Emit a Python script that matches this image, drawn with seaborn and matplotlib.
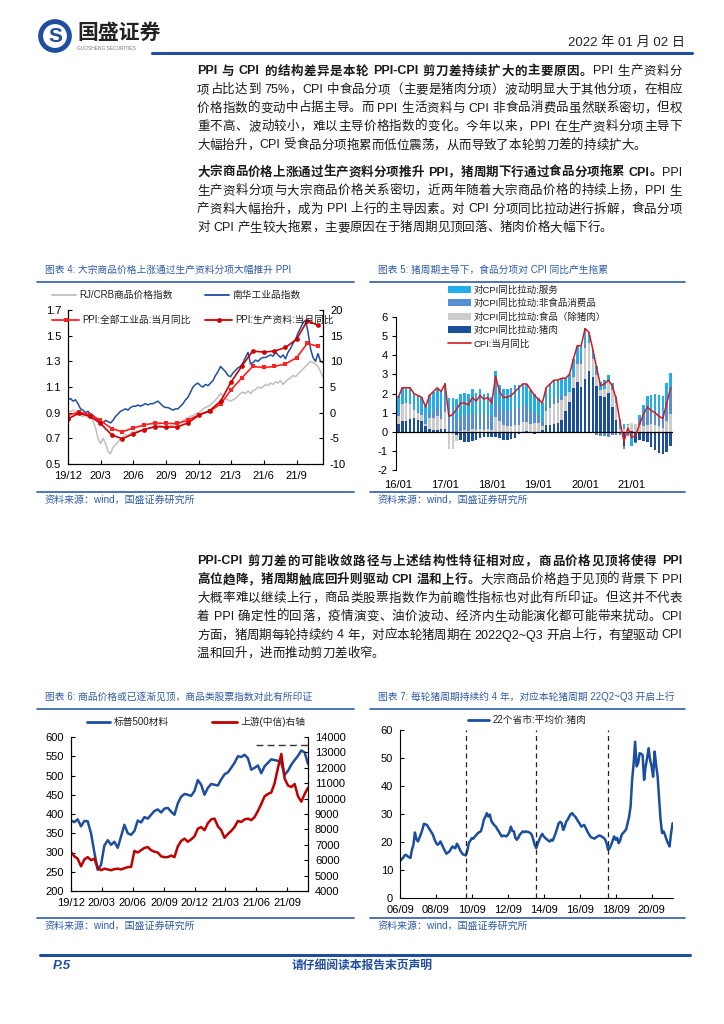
import re
import numpy as np
import pandas as pd
import matplotlib
matplotlib.use('Agg')
import matplotlib.pyplot as plt
import seaborn as sns
from matplotlib.lines import Line2D
from matplotlib.patches import Patch, Circle

# ---------------- data ----------------
# chart 4: weekly normalised indices (from 2019-12-01) and monthly PPI yoy
nanhua_idx = [1.00, 1.01, 0.99, 1.00, 0.97, 0.93, 0.92, 0.90, 0.91,
              0.89, 0.88, 0.86, 0.84, 0.83, 0.82, 0.84, 0.83, 0.82,
              0.84, 0.87, 0.89, 0.91, 0.92, 0.93, 0.92, 0.94, 0.95,
              0.95, 0.96, 0.95, 0.96, 0.97, 0.96, 0.97, 0.97,
              0.98, 0.99, 0.97, 0.95, 0.94, 0.94, 0.93, 0.92, 0.93,
              0.93, 0.95, 0.97, 1.00, 1.02, 1.06, 1.10, 1.12, 1.13,
              1.11, 1.10, 1.12, 1.11, 1.13, 1.15, 1.19, 1.22,
              1.26, 1.24, 1.22, 1.19, 1.18, 1.21, 1.23, 1.25, 1.26,
              1.29, 1.33, 1.37, 1.28, 1.29, 1.31, 1.30, 1.32, 1.33,
              1.33, 1.34, 1.35, 1.34, 1.37, 1.35, 1.33, 1.35,
              1.32, 1.37, 1.40, 1.44, 1.47, 1.52, 1.56, 1.60, 1.62,
              1.53, 1.40, 1.33, 1.30, 1.36, 1.30, 1.29]
crb_idx = [0.90, 0.91, 0.92, 0.91, 0.89, 0.88, 0.87, 0.88, 0.86,
           0.86, 0.84, 0.78, 0.70, 0.66, 0.70, 0.66, 0.60, 0.58,
           0.63, 0.65, 0.67, 0.70, 0.71, 0.73, 0.72, 0.74, 0.75,
           0.75, 0.76, 0.76, 0.77, 0.77, 0.78, 0.78, 0.79,
           0.80, 0.81, 0.80, 0.79, 0.78, 0.79, 0.80, 0.80, 0.81,
           0.81, 0.82, 0.84, 0.85, 0.86, 0.87, 0.88, 0.89, 0.90,
           0.91, 0.93, 0.94, 0.95, 0.96, 0.98, 1.00, 1.02,
           1.05, 1.03, 1.01, 1.00, 0.99, 1.00, 1.01, 1.03, 1.05,
           1.06, 1.05, 1.07, 1.05, 1.07, 1.08, 1.10, 1.09, 1.10,
           1.12, 1.11, 1.13, 1.12, 1.14, 1.13, 1.15, 1.12,
           1.14, 1.16, 1.17, 1.19, 1.18, 1.20, 1.22, 1.24, 1.26,
           1.28, 1.30, 1.29, 1.28, 1.26, 1.22, 1.18]
ppi_all = [-0.5, 0.1, -0.4, -1.5, -3.1, -3.7, -3.0, -2.4, -2.0, -2.1, -2.1, -1.5,
           -0.4, 0.3, 1.7, 4.4, 6.8, 9.0, 8.8, 9.0, 9.5, 10.7, 13.5, 12.9]
ppi_means = [-1.2, -0.1, -0.7, -2.1, -4.3, -5.1, -4.1, -3.3, -2.7, -2.8, -2.8, -2.0,
             -0.5, 0.4, 2.3, 5.9, 9.1, 12.0, 11.8, 12.0, 12.7, 14.3, 17.9, 17.0]
c4_ticks = ['2019-12-01', '2020-03-01', '2020-06-01', '2020-09-01',
            '2020-12-01', '2021-03-01', '2021-06-01', '2021-09-01']
c4_labels = ['19/12', '20/3', '20/6', '20/9', '20/12', '21/3', '21/6', '21/9']

# chart 5: monthly contributions to CPI yoy, 2016-01 .. 2021-11
cpi_yoy = [1.8, 2.3, 2.3, 2.3, 2.0, 1.9, 1.8, 1.3, 1.9, 2.1, 2.3, 2.1,
           2.5, 0.8, 0.9, 1.2, 1.5, 1.5, 1.4, 1.8, 1.6, 1.9, 1.7, 1.8,
           1.5, 2.9, 2.1, 1.8, 1.8, 1.9, 2.1, 2.3, 2.5, 2.5, 2.2, 1.9,
           1.7, 1.5, 2.3, 2.5, 2.7, 2.7, 2.8, 2.8, 3.0, 3.8, 4.5, 4.5,
           5.4, 5.2, 4.3, 3.3, 2.4, 2.5, 2.7, 2.4, 1.7, 0.5, -0.5, 0.2,
           -0.3, -0.2, 0.4, 0.9, 1.3, 1.1, 1.0, 0.8, 0.7, 1.5, 2.3]
pork = [0.42, 0.55, 0.58, 0.65, 0.70, 0.62, 0.55, 0.30, 0.15, 0.10, 0.10, 0.12,
        0.12, -0.02, -0.05, -0.15, -0.45, -0.55, -0.55, -0.48, -0.42, -0.35, -0.30, -0.25,
        -0.30, -0.28, -0.35, -0.42, -0.45, -0.40, -0.35, -0.12, -0.05, 0.02, 0.00, -0.10,
        -0.08, 0.10, 0.35, 0.35, 0.40, 0.45, 0.60, 1.10, 1.55, 2.30, 2.60, 2.35,
        2.75, 3.20, 2.85, 2.40, 1.85, 1.80, 2.05, 1.30, 0.60, -0.05, -0.75, -0.05,
        0.05, -0.55, -0.45, -0.50, -0.55, -0.80, -0.95, -1.10, -1.15, -1.05, -0.75]
food_ex_pork = [0.38, 0.90, 0.90, 0.80, 0.45, 0.35, 0.30, 0.12, 0.55, 0.60, 0.70, 0.55,
                0.90, -0.90, -0.85, -0.35, 0.05, 0.10, 0.05, 0.15, 0.10, 0.15, 0.10, 0.15,
                0.10, 0.75, 0.55, 0.35, 0.30, 0.30, 0.35, 0.35, 0.50, 0.48, 0.40, 0.45,
                0.45, 0.20, 0.75, 0.90, 1.05, 1.05, 1.05, 0.75, 0.55, 0.55, 0.95, 1.20,
                1.65, 1.45, 0.95, 0.55, 0.35, 0.45, 0.55, 0.90, 0.90, 0.15, 0.15, 0.35,
                0.40, 0.40, 0.35, 0.30, 0.35, 0.40, 0.35, 0.30, 0.20, 0.55, 0.95]
nonfood = [0.15, 0.05, 0.05, 0.05, 0.05, 0.10, 0.12, 0.12, 0.30, 0.40, 0.50, 0.45,
           0.55, 0.70, 0.72, 0.65, 0.75, 0.80, 0.80, 0.85, 0.80, 0.85, 0.80, 0.80,
           0.70, 0.72, 0.75, 0.75, 0.80, 0.85, 0.90, 0.90, 0.90, 0.90, 0.75, 0.55,
           0.40, 0.25, 0.30, 0.35, 0.35, 0.30, 0.25, 0.10, 0.05, 0.10, 0.15, 0.20,
           0.20, 0.05, 0.00, -0.15, -0.20, -0.20, -0.25, -0.15, -0.15, -0.10, -0.15, -0.15,
           -0.25, -0.05, 0.25, 0.45, 0.70, 0.70, 0.70, 0.75, 0.80, 1.00, 1.05]
service = [0.90, 0.85, 0.80, 0.82, 0.82, 0.85, 0.85, 0.80, 0.90, 1.00, 1.00, 0.98,
           1.00, 1.05, 1.05, 1.05, 1.15, 1.15, 1.10, 1.25, 1.12, 1.25, 1.10, 1.10,
           1.00, 1.71, 1.15, 1.12, 1.15, 1.15, 1.20, 1.17, 1.15, 1.10, 1.05, 1.00,
           0.93, 0.95, 0.90, 0.90, 0.90, 0.90, 0.90, 0.85, 0.85, 0.85, 0.80, 0.75,
           0.80, 0.50, 0.50, 0.50, 0.40, 0.45, 0.35, 0.35, 0.35, 0.50, 0.25, 0.05,
           -0.50, 0.00, 0.25, 0.65, 0.80, 0.80, 0.95, 0.85, 0.85, 1.00, 1.05]
c5_labels = ['16/01', '17/01', '18/01', '19/01', '20/01', '21/01']

# chart 6: S&P500 materials (left) and CITIC upstream (right), 2019-12 .. 2021-11
sp_materials = [383, 379, 386, 368, 382, 381, 350, 300, 255, 268,
                318, 332, 320, 328, 312, 342, 372, 350, 346, 356,
                383, 378, 392, 388, 398, 408, 412, 404, 414, 416,
                406, 398, 428, 445, 452, 450, 447, 460, 488, 476,
                450, 468, 478, 476, 474, 490, 503, 508, 520, 533,
                550, 548, 554, 545, 515, 520, 526, 506, 524, 533,
                542, 540, 538, 532, 502, 512, 528, 540, 551, 565,
                560, 530]
citic_upstream = [6530, 6250, 6100, 5600, 6050, 6200, 6000, 6100, 5500, 5350,
                  5450, 5400, 5350, 5420, 5450, 5400, 5480, 5550, 5560, 6600,
                  6500, 6650, 6800, 6850, 6650, 6550, 6500, 6250, 6200, 6200,
                  6300, 6200, 6900, 7250, 7400, 7200, 7350, 7550, 8050, 8150,
                  7950, 8400, 8650, 8700, 8200, 7950, 7450, 7700, 7900, 8150,
                  8550, 8480, 8650, 8700, 8600, 8800, 9200, 9650, 10150, 10300,
                  10400, 11000, 12000, 12900, 11300, 10850, 10750, 10950, 10150, 9800,
                  10300, 10700]
upstream_peak = 13500
peak_from = '2021-06-01'
c6_ticks = ['2019-12-01', '2020-03-01', '2020-06-01', '2020-09-01',
            '2020-12-01', '2021-03-01', '2021-06-01', '2021-09-01']
c6_labels = ['19/12', '20/03', '20/06', '20/09', '20/12', '21/03', '21/06', '21/09']

# chart 7: monthly pork price, 22 provinces, 2006-09 .. 2021-11
pork_price = [13.1, 13.8, 14.3, 15.2, 15.4, 14.9, 14.6, 14.3, 17.2, 19.0, 23.4, 21.0,
              20.2, 21.5, 22.9, 24.5, 26.5, 26.3, 26.1, 25.2, 24.3, 23.5, 22.6, 21.0,
              19.8, 19.0, 19.4, 20.2, 19.0, 17.8, 16.9, 15.8, 16.2, 16.6, 17.5, 18.4,
              18.0, 17.8, 19.4, 18.5, 17.2, 16.3, 15.6, 15.4, 15.2, 17.0, 19.6, 20.5,
              21.4, 21.2, 22.0, 22.5, 23.2, 23.5, 23.8, 25.5, 27.9, 29.0, 30.3, 29.1,
              29.8, 27.5, 26.7, 26.0, 25.5, 24.5, 23.8, 22.8, 22.0, 22.3, 22.2, 22.0,
              22.6, 23.5, 25.5, 24.0, 23.8, 21.5, 20.8, 21.5, 22.6, 23.2, 23.8, 23.5,
              23.8, 23.6, 23.5, 23.2, 22.5, 20.8, 19.0, 17.8, 19.5, 20.8, 22.0, 22.9,
              22.0, 21.4, 21.0, 20.5, 20.2, 20.8, 20.5, 21.8, 23.2, 25.0, 26.7, 27.2,
              26.7, 24.3, 25.5, 27.3, 28.0, 29.1, 30.0, 30.3, 29.5, 29.1, 28.2, 27.3,
              26.5, 25.5, 25.8, 26.1, 25.0, 23.8, 23.0, 22.0, 21.6, 21.4, 21.2, 21.7,
              22.0, 22.3, 22.2, 21.8, 21.5, 20.8, 19.5, 17.2, 17.8, 19.0, 20.5, 22.0,
              20.8, 21.5, 19.6, 20.5, 22.6, 23.2, 23.8, 24.5, 26.7, 29.0, 32.7, 42.2,
              48.0, 55.8, 47.0, 48.1, 51.7, 51.5, 51.1, 42.2, 46.9, 50.0, 53.5, 49.3,
              47.0, 43.3, 52.3, 47.5, 43.3, 35.0, 28.0, 23.2, 23.8, 22.5, 20.8, 19.5,
              18.4, 23.2, 26.7]
cycle_troughs = ['2010-05-01', '2014-04-01', '2018-04-01']
c7_labels = ['06/09', '08/09', '10/09', '12/09', '14/09', '16/09', '18/09', '20/09']

# body text
para1 = [
    [("PPI 与 CPI 的结构差异是本轮 PPI-CPI 剪刀差持续扩大的主要原因。", True), ("PPI 生产资料分", False)],
    [("项占比达到 75%，CPI 中食品分项（主要是猪肉分项）波动明显大于其他分项，在相应", False)],
    [("价格指数的变动中占据主导。而 PPI 生活资料与 CPI 非食品消费品虽然联系密切，但权", False)],
    [("重不高、波动较小，难以主导价格指数的变化。今年以来，PPI 在生产资料分项主导下", False)],
    [("大幅抬升，CPI 受食品分项拖累而低位震荡，从而导致了本轮剪刀差的持续扩大。", False)],
]
para2 = [
    [("大宗商品价格上涨通过生产资料分项推升 PPI，猪周期下行通过食品分项拖累 CPI。", True), ("PPI", False)],
    [("生产资料分项与大宗商品价格关系密切，近两年随着大宗商品价格的持续上扬，PPI 生", False)],
    [("产资料大幅抬升，成为 PPI 上行的主导因素。对 CPI 分项同比拉动进行拆解，食品分项", False)],
    [("对 CPI 产生较大拖累，主要原因在于猪周期见顶回落、猪肉价格大幅下行。", False)],
]
para3 = [
    [("PPI-CPI 剪刀差的可能收敛路径与上述结构性特征相对应，商品价格见顶将使得 PPI", True)],
    [("高位趋降，猪周期触底回升则驱动 CPI 温和上行。", True), ("大宗商品价格趋于见顶的背景下 PPI", False)],
    [("大概率难以继续上行，商品类股票指数作为前瞻性指标也对此有所印证。但这并不代表", False)],
    [("着 PPI 确定性的回落，疫情演变、油价波动、经济内生动能演化都可能带来扰动。CPI", False)],
    [("方面，猪周期每轮持续约 4 年，对应本轮猪周期在 2022Q2~Q3 开启上行，有望驱动 CPI", False)],
    [("温和回升，进而推动剪刀差收窄。", False)],
]

# ---------------- figure ----------------
sns.set_theme(style='white', rc={'axes.edgecolor': 'black', 'axes.linewidth': 0.8,
                                  'xtick.color': 'black', 'ytick.color': 'black',
                                  'xtick.labelsize': 8, 'ytick.labelsize': 8})
plt.rcParams['font.family'] = ['Liberation Sans', 'Noto Sans CJK SC', 'DejaVu Sans']
plt.rcParams['axes.unicode_minus'] = False

W, H = 724, 1024
BLUE = '#1F4E9E'
TITLE_BLUE = '#2F5BA8'
fig = plt.figure(figsize=(W / 100, H / 100), dpi=100)
renderer = fig.canvas.get_renderer()


def fx(x):
    return x / W


def fy(y):
    return 1 - y / H


def box(l, t, r, b):
    return [fx(l), fy(b), (r - l) / W, (b - t) / H]


def hline(x0, x1, y, color=TITLE_BLUE, lw=1.2):
    fig.add_artist(Line2D([fx(x0), fx(x1)], [fy(y), fy(y)], color=color, lw=lw))


def write_line(x0, x1, y, parts, justify=True, size=9.0):
    items = []
    for text, bold in parts:
        for tok in re.findall(r'[A-Za-z0-9%~\-\./]+| |.', text):
            if tok == ' ':
                items.append([None, size * 0.28 * 100 / 72])
                continue
            t = fig.text(fx(x0), fy(y), tok, fontsize=size, color='#1a1a1a',
                         fontweight='bold' if bold else 'normal', va='center', ha='left')
            items.append([t, t.get_window_extent(renderer).width])
    total = sum(w for _, w in items)
    gap = (x1 - x0 - total) / (len(items) - 1) if justify and len(items) > 1 else 0.0
    x = x0
    for t, w in items:
        if t is not None:
            t.set_x(fx(x))
        x += w + gap


def write_para(lines, ys, x0=197, x1=682):
    for i, (parts, y) in enumerate(zip(lines, ys)):
        write_line(x0, x1, y, parts, justify=(i < len(lines) - 1))


def leg(handles, labels, x, y, size=7.0, hl=2.5):
    fig.legend(handles, labels, loc='center left', bbox_to_anchor=(fx(x), fy(y)),
               frameon=False, fontsize=size, handlelength=hl, handletextpad=0.3,
               borderpad=0, borderaxespad=0, labelspacing=0, labelcolor='#222222')


def chart_frame(x0, x1, y_title, y_rule, y_srule, title):
    fig.text(fx(x0 + 8), fy(y_title), title, fontsize=7.0, color=TITLE_BLUE, va='center')
    hline(x0, x1, y_rule)
    hline(x0, x1, y_srule)
    fig.text(fx(x0 + 8), fy(y_srule + 8), '资料来源：wind，国盛证券研究所', fontsize=7.2,
             color=TITLE_BLUE, va='center')


# header
ax_logo = fig.add_axes(box(38, 19, 72, 53))
ax_logo.set_xlim(-1, 1)
ax_logo.set_ylim(-1, 1)
ax_logo.set_aspect('equal')
ax_logo.axis('off')
ax_logo.add_patch(Circle((0, 0), 0.95, color=BLUE))
ax_logo.add_patch(Circle((0, 0), 0.66, color='white'))
ax_logo.text(0, -0.02, 'S', ha='center', va='center', fontsize=15, fontweight='bold', color=BLUE)
fig.text(fx(77), fy(33), '国盛证券', fontsize=15, fontweight='bold', color='#222222', va='center')
fig.text(fx(77), fy(48), 'GUOSHENG SECURITIES', fontsize=3.5, color='#777777', va='center')
hline(152, 692, 53, color=BLUE, lw=2.2)
fig.text(fx(685), fy(43), '2022 年 01 月 02 日', fontsize=9.5, color='#222222', ha='right', va='center')

# body text
write_para(para1, [71.5, 90, 108.5, 127, 145.5])
write_para(para2, [172.5, 191, 209.5, 228])
write_para(para3, [561.5, 580, 598.5, 617, 635.5, 654])

# ---------------- chart 4 ----------------
chart_frame(37, 354, 270, 282, 492, '图表 4: 大宗商品价格上涨通过生产资料分项大幅推升 PPI')
week4 = pd.date_range('2019-12-01', periods=len(nanhua_idx), freq='7D')
month4 = pd.date_range('2019-12-01', periods=len(ppi_all), freq='MS')
ax4 = fig.add_axes(box(68, 310, 323, 464))
ax4b = ax4.twinx()
sns.lineplot(x=week4, y=crb_idx, ax=ax4, color='#BFBFBF', linewidth=1.1)
sns.lineplot(x=week4, y=nanhua_idx, ax=ax4, color=BLUE, linewidth=1.1)
sns.lineplot(x=month4, y=ppi_all, ax=ax4b, color='#FF2020', linewidth=1.2,
             marker='s', markersize=3.2, markeredgewidth=0)
sns.lineplot(x=month4, y=ppi_means, ax=ax4b, color='#D00000', linewidth=1.2,
             marker='o', markersize=3.4, markeredgewidth=0)
ax4.set_ylim(0.5, 1.7)
ax4.set_yticks(np.arange(0.5, 1.71, 0.2))
ax4.set_yticklabels([f'{v:.1f}' for v in np.arange(0.5, 1.71, 0.2)])
ax4b.set_ylim(-10, 20)
ax4b.set_yticks(range(-10, 21, 5))
ax4.set_xticks(pd.to_datetime(c4_ticks))
ax4.set_xticklabels(c4_labels)
ax4.set_xlim(pd.Timestamp('2019-12-01'), pd.Timestamp('2021-11-14'))
for a in (ax4, ax4b):
    a.set_xlabel('')
    a.set_ylabel('')
    a.spines['top'].set_visible(False)
    a.patch.set_visible(False)
ax4.tick_params(direction='in', length=3, width=0.8, left=True, bottom=True, pad=5)
ax4b.tick_params(axis='y', direction='in', length=3, width=0.8, right=True, pad=5)
leg([Line2D([], [], color='#BFBFBF', lw=1.3)], ['RJ/CRB商品价格指数'], 52, 295)
leg([Line2D([], [], color=BLUE, lw=1.3)], ['南华工业品指数'], 205, 295)
leg([Line2D([], [], color='#FF2020', lw=1.3, marker='s', ms=3.5, mew=0)],
    ['PPI:全部工业品:当月同比'], 52, 320, hl=2.8)
leg([Line2D([], [], color='#D00000', lw=1.3, marker='o', ms=3.5, mew=0)],
    ['PPI:生产资料:当月同比'], 205, 320, hl=2.8)

# ---------------- chart 5 ----------------
chart_frame(370, 685, 270, 282, 492, '图表 5: 猪周期主导下，食品分项对 CPI 同比产生拖累')
ax5 = fig.add_axes(box(396, 317, 673, 470))
idx = np.arange(len(cpi_yoy))
comp_colors = ['#1B4E9B', '#CCCCCC', '#5A8ED2', '#22AEEC']
pos_base = np.zeros(len(idx))
neg_base = np.zeros(len(idx))
for vals, col in zip([pork, food_ex_pork, nonfood, service], comp_colors):
    v = np.array(vals)
    ax5.bar(idx, v, bottom=np.where(v >= 0, pos_base, neg_base), width=0.66,
            color=col, linewidth=0)
    pos_base += np.where(v >= 0, v, 0)
    neg_base += np.where(v < 0, v, 0)
ax5.axhline(0, color='black', lw=0.9)
sns.lineplot(x=idx, y=cpi_yoy, ax=ax5, color='#D7191C', linewidth=1.1)
ax5.set_ylim(-2, 6)
ax5.set_yticks(range(-2, 7))
ax5.set_xlim(-0.6, len(idx) - 0.4)
ax5.set_xticks(range(0, len(idx), 12))
ax5.set_xticklabels(c5_labels)
ax5.set_xlabel('')
ax5.set_ylabel('')
for s in ('top', 'right', 'bottom'):
    ax5.spines[s].set_visible(False)
ax5.patch.set_visible(False)
ax5.tick_params(axis='y', direction='out', length=3, width=0.8, left=True, pad=3)
ax5.tick_params(axis='x', length=0, pad=7)
c5_names = ['对CPI同比拉动:服务', '对CPI同比拉动:非食品消费品', '对CPI同比拉动:食品（除猪肉）',
            '对CPI同比拉动:猪肉']
for name, col, y in zip(c5_names, comp_colors[::-1], [290, 303, 317, 330]):
    leg([Patch(facecolor=col, edgecolor='none')], [name], 448, y, size=6.8, hl=2.4)
leg([Line2D([], [], color='#D7191C', lw=1.2)], ['CPI:当月同比'], 448, 344, size=6.8, hl=2.4)

# ---------------- chart 6 ----------------
chart_frame(37, 354, 697, 709, 918, '图表 6: 商品价格或已逐渐见顶，商品类股票指数对此有所印证')
days6 = pd.date_range('2019-12-01', '2021-11-01', periods=len(sp_materials))
ax6 = fig.add_axes(box(71, 737, 308, 891))
ax6b = ax6.twinx()
sns.lineplot(x=days6, y=sp_materials, ax=ax6, color=BLUE, linewidth=1.8)
sns.lineplot(x=days6, y=citic_upstream, ax=ax6b, color='#C00000', linewidth=1.8)
ax6b.hlines(upstream_peak, pd.Timestamp(peak_from), days6[-1], colors='#333333',
            linestyles=(0, (5, 3)), lw=1.0)
ax6.set_ylim(200, 600)
ax6.set_yticks(range(200, 601, 50))
ax6b.set_ylim(4000, 14000)
ax6b.set_yticks(range(4000, 14001, 1000))
ax6.set_xticks(pd.to_datetime(c6_ticks))
ax6.set_xticklabels(c6_labels)
ax6.set_xlim(days6[0], days6[-1])
for a in (ax6, ax6b):
    a.set_xlabel('')
    a.set_ylabel('')
    a.spines['top'].set_visible(False)
    a.patch.set_visible(False)
ax6.tick_params(direction='in', length=3, width=0.8, left=True, bottom=True, pad=5)
ax6b.tick_params(axis='y', direction='in', length=3, width=0.8, right=True, pad=5)
leg([Line2D([], [], color=BLUE, lw=2)], ['标普500材料'], 87, 722, hl=2.4)
leg([Line2D([], [], color='#C00000', lw=2)], ['上游(中信)右轴'], 212, 722, hl=2.6)

# ---------------- chart 7 ----------------
chart_frame(370, 685, 697, 709, 918, '图表 7: 每轮猪周期持续约 4 年，对应本轮猪周期 22Q2~Q3 开启上行')
months7 = pd.date_range('2006-09-01', periods=len(pork_price), freq='MS')
ax7 = fig.add_axes(box(400, 730, 673, 898))
sns.lineplot(x=months7, y=pork_price, ax=ax7, color='#1A4FA0', linewidth=1.8)
for d in cycle_troughs:
    ax7.axvline(pd.Timestamp(d), color='#222222', lw=0.9, ls=(0, (4, 3)))
ax7.set_ylim(0, 60)
ax7.set_yticks(range(0, 61, 10))
ax7.set_xticks(pd.date_range('2006-09-01', periods=len(c7_labels), freq='24MS'))
ax7.set_xticklabels(c7_labels)
ax7.set_xlim(months7[0], months7[-1] + pd.Timedelta(days=8))
ax7.set_xlabel('')
ax7.set_ylabel('')
for s in ('top', 'right'):
    ax7.spines[s].set_visible(False)
ax7.patch.set_visible(False)
ax7.tick_params(direction='in', length=3, width=0.8, left=True, bottom=True, pad=5)
leg([Line2D([], [], color='#1A4FA0', lw=2)], ['22个省市:平均价:猪肉'], 468, 720, hl=2.2)

# footer
hline(40, 690, 955, color=BLUE, lw=2.2)
fig.text(fx(53), fy(966), 'P.5', fontsize=9.5, fontweight='bold', style='italic', color=BLUE, va='center')
fig.text(fx(362), fy(966), '请仔细阅读本报告末页声明', fontsize=8.5, fontweight='bold', color=BLUE,
         ha='center', va='center')

fig.savefig('out.png', dpi=100)
